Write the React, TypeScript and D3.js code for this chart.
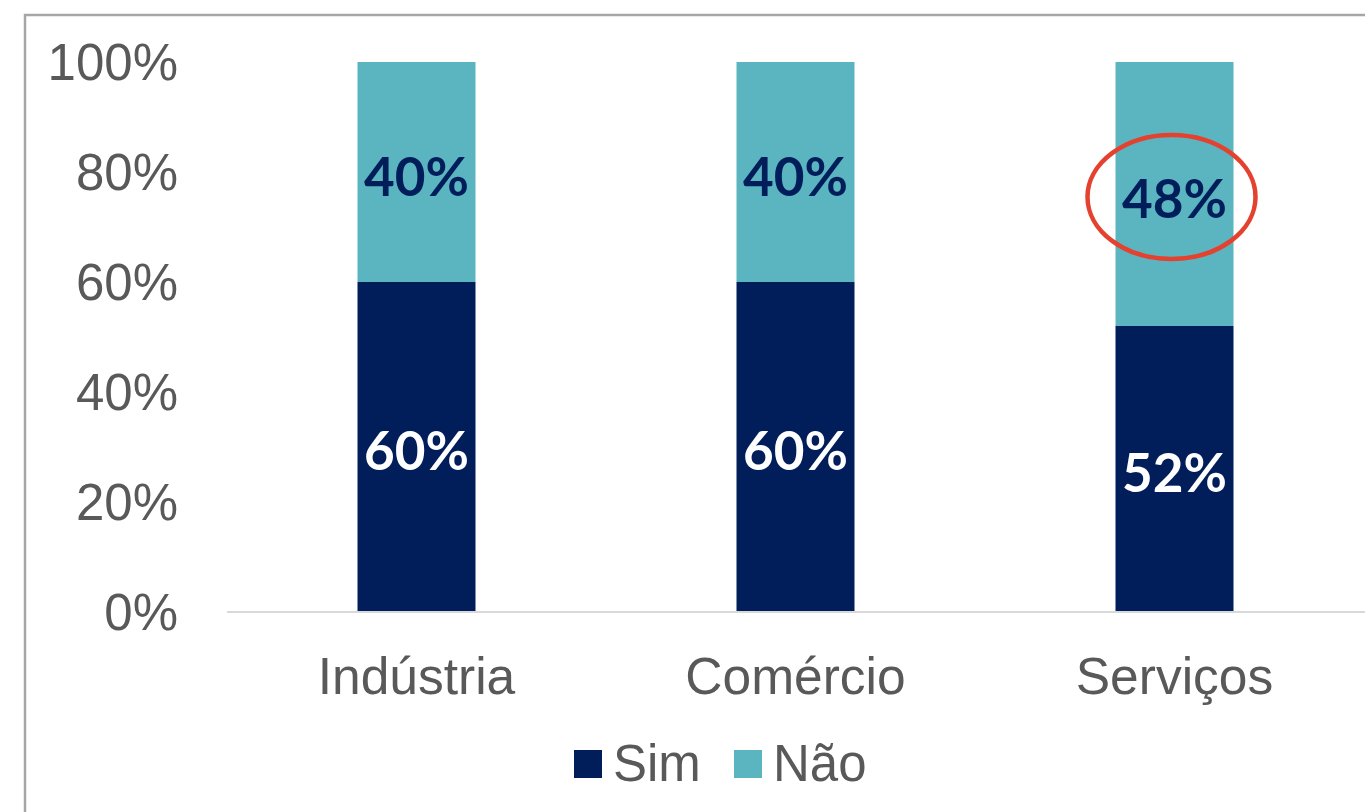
import React from "react";
import * as d3 from "d3";

const categories = ["Indústria", "Comércio", "Serviços"];
const simValues = [60, 60, 52];
const naoValues = [40, 40, 48];
const yTicks = [0, 20, 40, 60, 80, 100];
const seriesNames = ["Sim", "Não"];

const W = 1365;
const H = 812;
const NAVY = "#011e5b";
const TEAL = "#5ab5c0";
const GRAY_TEXT = "#595959";

export default function App() {
  const x = d3.scaleBand<string>().domain(categories).range([227, 1364]).padding(0);
  const y = d3.scaleLinear().domain([0, 100]).range([612, 62]);
  const barW = 118;
  const axisFont = "'Liberation Sans', Arial, sans-serif";
  const labelFont = "Lato, 'Noto Sans', sans-serif";

  const stacked = categories.map((c, i) => ({
    c,
    sim: simValues[i],
    nao: naoValues[i],
  }));

  const bx = (c: string) => (x(c) as number) + (x.step() - barW) / 2;
  const cx = (c: string) => (x(c) as number) + x.step() / 2;

  const hl = stacked[2];
  const hlCy = (y(hl.sim) + y(hl.sim + hl.nao)) / 2 + 3;

  return (
    <div style={{ position: "fixed", left: 0, top: 0 }}>
      <svg width={W} height={H} style={{ display: "block", background: "#fff" }}>
        <rect x={25} y={15} width={W + 20} height={H + 20} fill="none" stroke="#a6a6a6" strokeWidth={2.5} />
        {yTicks.map((t) => (
          <text
            key={t}
            x={178}
            y={y(t)}
            dy="0.35em"
            textAnchor="end"
            fontFamily={axisFont}
            fontSize={51}
            fill={GRAY_TEXT}
          >
            {t}%
          </text>
        ))}
        {stacked.map((d) => (
          <g key={d.c}>
            <rect x={bx(d.c)} y={y(d.sim)} width={barW} height={y(0) - y(d.sim)} fill={NAVY} />
            <rect
              x={bx(d.c)}
              y={y(d.sim + d.nao)}
              width={barW}
              height={y(d.sim) - y(d.sim + d.nao)}
              fill={TEAL}
            />
            <text
              x={cx(d.c)}
              y={(y(0) + y(d.sim)) / 2 + 4}
              dy="0.35em"
              textAnchor="middle"
              fontFamily={labelFont}
              fontWeight={700}
              fontSize={53}
              fill="#ffffff"
            >
              {d.sim}%
            </text>
            <text
              x={cx(d.c)}
              y={(y(d.sim) + y(d.sim + d.nao)) / 2 + 5}
              dy="0.35em"
              textAnchor="middle"
              fontFamily={labelFont}
              fontWeight={700}
              fontSize={53}
              fill={NAVY}
            >
              {d.nao}%
            </text>
          </g>
        ))}
        <line x1={227} x2={W} y1={y(0)} y2={y(0)} stroke="#d9d9d9" strokeWidth={2} />
        {categories.map((c) => (
          <text
            key={c}
            x={cx(c)}
            y={694}
            textAnchor="middle"
            fontFamily={axisFont}
            fontSize={51.5}
            fill={GRAY_TEXT}
          >
            {c}
          </text>
        ))}
        <ellipse cx={cx(hl.c) - 3} cy={hlCy} rx={84} ry={62} fill="none" stroke="#e5412f" strokeWidth={4.5} />
        {seriesNames.map((s, i) => {
          const lx = [574, 734][i];
          return (
            <g key={s}>
              <rect x={lx} y={750} width={28} height={28} fill={i === 0 ? NAVY : TEAL} />
              <text x={lx + 39} y={781} fontFamily={axisFont} fontSize={51} fill={GRAY_TEXT}>
                {s}
              </text>
            </g>
          );
        })}
      </svg>
    </div>
  );
}
